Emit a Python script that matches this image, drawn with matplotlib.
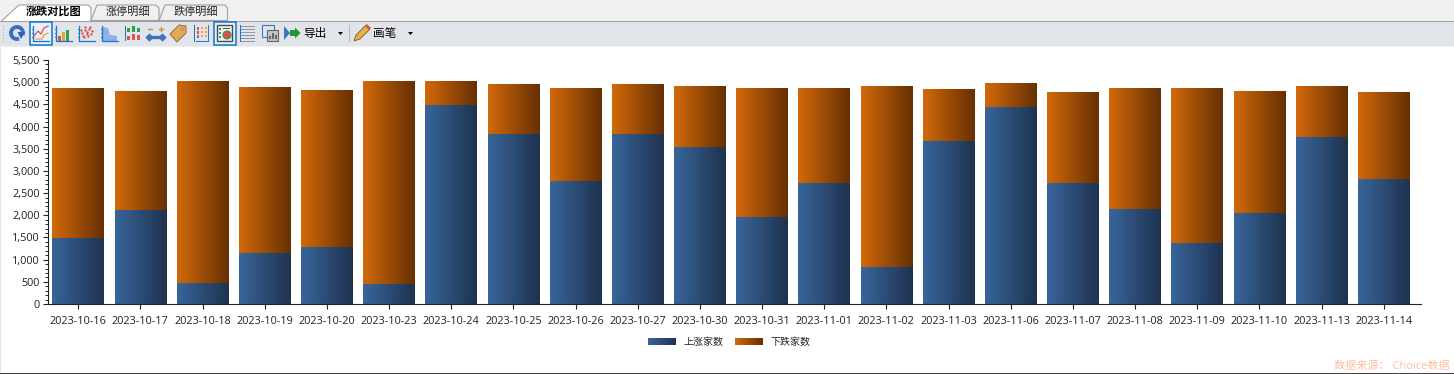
import numpy as np
import matplotlib
matplotlib.use('Agg')
import matplotlib.pyplot as plt
from matplotlib.colors import LinearSegmentedColormap
from matplotlib.patches import Rectangle, Polygon, Circle, Arc
from matplotlib.ticker import MultipleLocator, FuncFormatter

plt.rcParams['font.family'] = ['Open Sans', 'Noto Sans CJK SC', 'DejaVu Sans']

dates = ['2023-10-16', '2023-10-17', '2023-10-18', '2023-10-19', '2023-10-20', '2023-10-23',
         '2023-10-24', '2023-10-25', '2023-10-26', '2023-10-27', '2023-10-30', '2023-10-31',
         '2023-11-01', '2023-11-02', '2023-11-03', '2023-11-06', '2023-11-07', '2023-11-08',
         '2023-11-09', '2023-11-10', '2023-11-13', '2023-11-14']
up_counts = [1480, 2130, 480, 1150, 1290, 460, 4480, 3840, 2770, 3840, 3550,
             1960, 2730, 840, 3680, 4440, 2720, 2150, 1370, 2060, 3770, 2820]
down_counts = [3380, 2680, 4540, 3730, 3520, 4560, 520, 1110, 2090, 1110, 1360,
               2900, 2130, 4070, 1150, 530, 2030, 2710, 3490, 2740, 1140, 1950]
series_names = ['上涨家数', '下跌家数']
tab_names = ['涨跌对比图', '涨停明细', '跌停明细']

blue_map = LinearSegmentedColormap.from_list('blue', ['#38659a', '#1f3350'])
orange_map = LinearSegmentedColormap.from_list('orange', ['#d2690a', '#663003'])
grad = np.linspace(0, 1, 64).reshape(1, -1)

fig = plt.figure(figsize=(14.54, 3.74), dpi=100, facecolor='white')
W, H = 1454.0, 374.0

# chart area, positions in pixels of the screenshot
ax = fig.add_axes([47.5 / W, 1 - 304 / H, (1421 - 47.5) / W, 244 / H])
x = np.arange(len(dates))
b1 = ax.bar(x, up_counts, width=0.83, color='none')
b2 = ax.bar(x, down_counts, width=0.83, bottom=up_counts, color='none')
for bars, cm in ((b1, blue_map), (b2, orange_map)):
    for p in bars:
        ax.imshow(grad, cmap=cm, aspect='auto', zorder=2,
                  extent=(p.get_x(), p.get_x() + p.get_width(), p.get_y(), p.get_y() + p.get_height()))
ax.set_xlim(-0.495, 21.6)
ax.set_ylim(0, 5500)
ax.spines['top'].set_visible(False)
ax.spines['right'].set_visible(False)
ax.spines['left'].set_color('#222222')
ax.spines['bottom'].set_color('#222222')
ax.yaxis.set_major_locator(MultipleLocator(500))
ax.yaxis.set_minor_locator(MultipleLocator(100))
ax.yaxis.set_major_formatter(FuncFormatter(lambda v, _: f'{int(v):,}'))
ax.set_xticks(x)
ax.set_xticklabels(dates)
ax.tick_params(axis='y', which='major', length=3.5, width=0.8, labelsize=7.8, pad=2, colors='#222222')
ax.tick_params(axis='y', which='minor', length=2, width=0.7, colors='#222222')
ax.tick_params(axis='x', length=3.5, width=0.8, labelsize=7.8, pad=5.5, colors='#222222')

# everything around the chart is drawn on a pixel overlay
ui = fig.add_axes([0, 0, 1, 1], zorder=5)
ui.set_xlim(0, W)
ui.set_ylim(H, 0)
ui.axis('off')
ui.patch.set_alpha(0)

def rect(x0, y0, w, h, fc, ec='none', lw=0.8):
    ui.add_patch(Rectangle((x0, y0), w, h, facecolor=fc, edgecolor=ec, linewidth=lw))

def grad_rect(x0, y0, w, h, cm):
    ui.imshow(grad, cmap=cm, aspect='auto', extent=(x0, x0 + w, y0 + h, y0))

rect(0, 0, W, 20.5, '#f0f0f0')
rect(0, 20.5, W, 1, '#a0a0a0')
rect(0, 21.5, W, 24, '#e1e4ea')
rect(0, 45.5, W, 1.5, '#f0f0f0')
rect(0, 47, 1, H - 47, '#e8e8e8')
rect(0, 372.8, W, 1.2, '#444444')

# tabs
ui.add_patch(Polygon([(2, 20.5), (19, 5), (88, 5), (91, 8), (91, 21.5), (2, 21.5)], fc='white', ec='#a0a0a0', lw=0.8))
ui.add_patch(Polygon([(91, 20.5), (97, 5), (156, 5), (159, 8), (159, 20.5)], fc='#f0f0f0', ec='#a0a0a0', lw=0.8))
ui.add_patch(Polygon([(159, 20.5), (165, 5), (225, 5), (227.5, 8), (227.5, 20.5)], fc='#f0f0f0', ec='#a0a0a0', lw=0.8))
ui.text(53.5, 12.5, tab_names[0], fontsize=8, fontweight='bold', ha='center', va='center', color='black')
ui.text(128, 12.5, tab_names[1], fontsize=8, ha='center', va='center', color='#222222')
ui.text(196, 12.5, tab_names[2], fontsize=8, ha='center', va='center', color='#222222')

# toolbar icons
for yy in (26, 29, 32, 35, 38, 41):
    rect(3, yy, 1.2, 1.2, '#a9adb5')
ui.add_patch(Arc((17, 33), 12, 12, theta1=70, theta2=20, ec='#3a70c4', lw=2.8))
ui.add_patch(Polygon([(17.5, 32), (25, 32), (21, 39)], fc='#2f62b4', ec='none'))
for bx in (29, 213):
    ui.add_patch(Rectangle((bx + 0.5, 21.5), 22, 23, fc='#eaf0f7', ec='#0a78d0', lw=1.1))

def axes_icon(x0):
    ui.plot([x0, x0, x0 + 16], [26, 41, 41], color='#1678c8', lw=0.9)
    for yy in (29, 33, 37):
        ui.plot([x0 - 1, x0], [yy, yy], color='#1678c8', lw=0.7)

axes_icon(33)
ui.plot([34, 38, 41, 44, 48], [36, 31, 34, 28, 26], color='#d9534f', lw=0.9)
ui.plot([36, 42, 44, 48], [39, 39, 35, 33], color='#e8a33a', lw=0.9)
axes_icon(56)
for bx, bh, c in ((58, 5, '#d9534f'), (62, 9, '#e8a33a'), (66, 11, '#2e9e4f')):
    rect(bx, 41 - bh, 3, bh, c)
axes_icon(79)
ptx = [81, 83, 85, 87, 89, 91, 82, 85, 88, 90, 84, 87, 92]
pty = [30, 36, 27, 32, 29, 34, 33, 30, 36, 27, 37, 34, 31]
ui.scatter(ptx, pty, s=3, color='#d9534f', linewidths=0)
axes_icon(102)
ui.add_patch(Polygon([(103, 41), (103, 27), (108, 28), (110, 35), (117, 36), (117, 41)], fc='#8fb0ea', ec='none'))
rect(124.5, 26, 1, 15, '#1678c8')
rect(125, 40.5, 15, 0.9, '#1678c8')
rect(125, 32.5, 15, 0.9, '#1678c8')
for bx, by, bh, c in ((127, 28, 4, '#2e9e4f'), (132, 26, 6, '#2e9e4f'), (137, 28, 4, '#2e9e4f'),
                      (127, 36, 4, '#d9534f'), (132, 34, 6, '#d9534f'), (137, 35, 5, '#d9534f')):
    rect(bx, by, 3, bh, c)
ui.plot([148, 152], [29, 29], color='#d98a3a', lw=1)
ui.plot([159, 163], [29, 29], color='#d98a3a', lw=1)
ui.plot([161, 161], [27, 31], color='#d98a3a', lw=1)
ui.plot([149, 162], [37, 37], color='#3f74b8', lw=2.4)
ui.scatter([149, 162], [37, 37], s=18, color='#3f74b8', marker='D', linewidths=0)
ui.add_patch(Polygon([(170, 34), (179, 25), (186, 26), (186, 33), (177, 42)], fc='#e2a85c', ec='#9c6b2c', lw=0.7))
ui.add_patch(Circle((182, 29), 1.2, fc='#e1e4ea', ec='#9c6b2c', lw=0.5))
rect(193.5, 25, 1.2, 17, '#1678c8')
rect(196, 40.5, 13, 1, '#1678c8')
rect(207.5, 25, 1, 16, '#3f74b8')
for yy in (27, 31, 35):
    rect(197, yy, 2, 3, '#d9534f')
    rect(201, yy, 2, 2, '#e8a33a')
    rect(204.5, yy, 2, 2, '#e8a33a')
rect(216.5, 25, 15.5, 16, '#eef0f2', ec='#4a4a4a', lw=1.0)
ui.add_patch(Circle((227, 35), 4, fc='#d9534f', ec='#2e9e4f', lw=0.8))
for yy in (28, 32, 36):
    rect(219, yy, 2, 2, '#2e9e4f')
rect(223, 28, 7, 0.8, '#555555')
for yy in (26, 29, 32, 35, 38, 41):
    rect(241, yy, 14, 0.8, '#8c97a5')
rect(240, 25, 1, 17, '#1678c8')
rect(262, 25, 12, 12, '#dce6f2', ec='#3f74b8')
rect(267, 30, 11, 11, '#c4c4c4', ec='#666666')
for bx, bh in ((269, 3), (272, 6), (275, 4)):
    rect(bx, 39 - bh, 1.5, bh, '#666666')
ui.add_patch(Polygon([(284, 26), (284, 40), (290, 33)], fc='#3f74b8', ec='none'))
ui.add_patch(Polygon([(290, 30), (295, 30), (295, 27.5), (300.5, 33), (295, 38.5), (295, 36), (290, 36)], fc='#1f9a2e', ec='none'))
ui.text(303, 33, '导出', fontsize=8.4, ha='left', va='center', color='black')
ui.add_patch(Polygon([(338, 32), (343, 32), (340.5, 35)], fc='black', ec='none'))
rect(349, 25, 0.8, 17, '#b5b8bd')
ui.add_patch(Polygon([(354, 41), (356, 35), (366, 25), (370, 29), (360, 39)], fc='#e8b04a', ec='#7a5a20', lw=0.6))
ui.add_patch(Polygon([(365, 26), (367, 24), (371, 28), (369, 30)], fc='#d9584a', ec='none'))
ui.text(373, 33, '画笔', fontsize=8.4, ha='left', va='center', color='black')
ui.add_patch(Polygon([(408, 32), (413, 32), (410.5, 35)], fc='black', ec='none'))

# legend and source note
grad_rect(648, 338, 28, 7, blue_map)
grad_rect(735, 338, 28, 7, orange_map)
ui.text(683.5, 342.5, series_names[0], fontsize=7.2, ha='left', va='center', color='#222222')
ui.text(770.5, 342.5, series_names[1], fontsize=7.2, ha='left', va='center', color='#222222')
ui.text(1450, 366, '数据来源： Choice数据', fontsize=8, ha='right', va='center', color='#ffbf9f')
ui.set_xlim(0, W)
ui.set_ylim(H, 0)

fig.savefig('out.png', dpi=100)
